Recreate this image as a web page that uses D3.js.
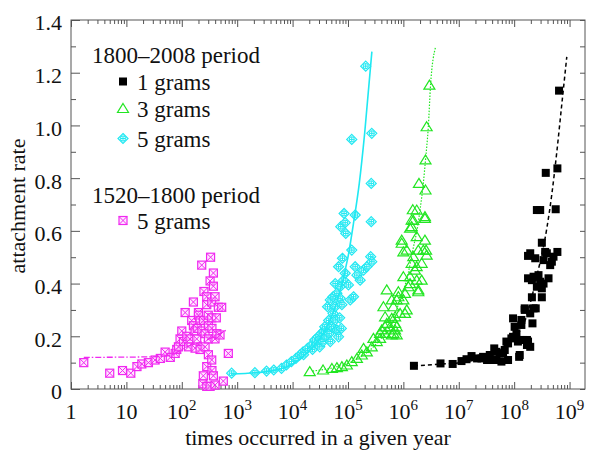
<!DOCTYPE html>
<html>
<head>
<meta charset="utf-8">
<script src="https://cdn.jsdelivr.net/npm/d3@7"></script>
<style>
  body { margin: 0; background: #fff; }
  svg text { font-family: "Liberation Serif", "Times New Roman", serif; fill: #111; }
</style>
</head>
<body>
<svg id="chart" width="592" height="450"></svg>
<script>
// [times occurred in a given year, attachment rate]
const oneGrams = [
  [1.55e6,0.088],[4.68e6,0.097],[7.76e6,0.095],[1.12e7,0.106],[1.38e7,0.113],[1.70e7,0.125],
  [2.14e7,0.116],[2.57e7,0.116],[2.75e7,0.122],[3.24e7,0.11],[3.63e7,0.129],[3.63e7,0.11],
  [4.37e7,0.154],[4.79e7,0.11],[4.79e7,0.141],[5.50e7,0.135],[5.89e7,0.104],[6.31e7,0.135],
  [6.76e7,0.148],[7.24e7,0.18],[7.76e7,0.11],[7.76e7,0.173],[8.91e7,0.192],[9.55e7,0.268],
  [9.55e7,0.198],[1.02e8,0.236],[1.10e8,0.211],[1.17e8,0.18],[1.23e8,0.122],[1.26e8,0.186],
  [1.26e8,0.129],[1.35e8,0.262],[1.35e8,0.243],[1.45e8,0.186],[1.55e8,0.306],[1.55e8,0.30],
  [1.70e8,0.167],[1.70e8,0.186],[1.78e8,0.18],[1.78e8,0.42],[1.78e8,0.505],[1.95e8,0.16],
  [1.95e8,0.287],[1.95e8,0.515],[2.09e8,0.348],[2.09e8,0.413],[2.14e8,0.249],[2.24e8,0.426],
  [2.24e8,0.306],[2.40e8,0.496],[2.45e8,0.306],[2.57e8,0.679],[2.57e8,0.388],[2.75e8,0.432],
  [2.95e8,0.679],[2.95e8,0.407],[3.16e8,0.348],[3.16e8,0.555],[3.16e8,0.382],[3.39e8,0.40],
  [3.39e8,0.489],[3.63e8,0.52],[3.72e8,0.82],[3.89e8,0.515],[4.17e8,0.42],[4.47e8,0.47],
  [4.79e8,0.483],[5.13e8,0.502],[5.62e8,0.682],[6.03e8,0.52],[6.03e8,0.837],[6.46e8,1.132]
]
const threeGrams = [
  [2.04e4,0.066],[3.55e4,0.072],[5.13e4,0.078],[6.31e4,0.081],[7.76e4,0.085],[9.55e4,0.091],
  [1.17e5,0.104],[1.45e5,0.116],[1.78e5,0.129],[1.91e5,0.154],[2.19e5,0.141],[2.69e5,0.16],
  [2.88e5,0.192],[3.31e5,0.18],[3.80e5,0.192],[3.80e5,0.211],[4.07e5,0.224],[4.37e5,0.312],
  [4.68e5,0.211],[4.68e5,0.274],[4.68e5,0.236],[5.01e5,0.249],[5.01e5,0.376],[5.75e5,0.236],
  [6.17e5,0.268],[6.17e5,0.338],[6.17e5,0.205],[6.61e5,0.312],[6.61e5,0.211],[7.08e5,0.224],
  [7.08e5,0.249],[7.08e5,0.274],[7.59e5,0.338],[7.59e5,0.205],[7.59e5,0.236],[8.13e5,0.369],
  [8.13e5,0.35],[8.71e5,0.287],[9.33e5,0.553],[9.33e5,0.565],[1.0e6,0.426],[1.0e6,0.338],
  [1.0e6,0.52],[1.07e6,0.287],[1.07e6,0.363],[1.15e6,0.527],[1.15e6,0.30],[1.23e6,0.388],
  [1.32e6,0.426],[1.32e6,0.61],[1.32e6,0.40],[1.41e6,0.477],[1.41e6,0.641],[1.41e6,0.616],
  [1.51e6,0.502],[1.48e6,0.68],[1.51e6,0.64],[1.62e6,0.451],[1.74e6,0.413],[1.74e6,0.578],
  [1.74e6,0.679],[1.74e6,0.464],[1.86e6,0.376],[1.86e6,0.527],[1.91e6,0.78],[1.86e6,0.369],
  [2.14e6,0.477],[2.14e6,0.413],[2.29e6,0.527],[2.45e6,0.565],[2.45e6,0.647],[2.45e6,0.654],
  [2.57e6,0.527],[2.51e6,0.755],[2.51e6,0.869],[2.63e6,0.995],[2.63e6,0.508],[2.95e6,1.153]
]
const fiveGrams = [
  [794,0.06],[2090,0.062],[3390,0.068],[4570,0.072],[6310,0.078],[7760,0.091],[9550,0.104],
  [11500,0.116],[13500,0.129],[15500,0.141],[15800,0.13],[18600,0.154],[21900,0.167],
  [22900,0.15],[25100,0.186],[27500,0.17],[28800,0.198],[30900,0.16],[31600,0.19],[33100,0.211],
  [35500,0.18],[36300,0.22],[38000,0.236],[40700,0.198],[42700,0.312],[44700,0.26],[45700,0.21],
  [47900,0.338],[47900,0.18],[50100,0.236],[53700,0.287],[53700,0.35],[55000,0.23],[58900,0.262],
  [58900,0.312],[58900,0.40],[63100,0.224],[63100,0.363],[67600,0.198],[67600,0.464],
  [70800,0.27],[72400,0.388],[72400,0.344],[74100,0.616],[75900,0.23],[77600,0.32],[79400,0.496],
  [83200,0.413],[85100,0.666],[89100,0.439],[89100,0.631],[91200,0.59],[102000,0.395],
  [110000,0.338],[117000,0.527],[117000,0.947],[126000,0.35],[135000,0.464],[135000,0.66],
  [145000,0.432],[166000,0.413],[191000,0.451],[209000,1.225],[219000,0.464],[257000,0.502],
  [263000,0.635],[263000,0.78],[269000,0.483],[269000,0.97]
]
const fiveGramsEarly = [
  [1.7,0.10],[5.0,0.06],[8.5,0.07],[12,0.06],[15.5,0.085],[19,0.095],[25,0.10],[33,0.11],
  [41,0.116],[50,0.14],[62,0.12],[76,0.135],[81,0.15],[87,0.16],[93,0.19],[100,0.22],
  [107,0.18],[115,0.29],[123,0.20],[132,0.16],[141,0.19],[151,0.26],[162,0.33],[162,0.24],
  [174,0.155],[174,0.22],[186,0.19],[190,0.23],[200,0.29],[200,0.28],[214,0.26],[214,0.15],
  [229,0.47],[230,0.22],[240,0.02],[245,0.26],[245,0.05],[251,0.37],[263,0.16],[263,0.21],
  [282,0.085],[282,0.01],[282,0.35],[282,0.32],[300,0.28],[302,0.24],[302,0.13],[302,0.19],
  [324,0.41],[324,0.01],[331,0.50],[347,0.33],[347,0.11],[347,0.27],[350,0.23],[350,0.07],
  [372,0.39],[372,0.05],[372,0.44],[398,0.35],[398,0.015],[398,0.19],[420,0.27],[427,0.21],
  [457,0.31],[490,0.205],[525,0.31],[562,0.03],[692,0.135]
]
// fitted curves
const oneGramsFit = [
  [1.55e6,0.088],[4.6e6,0.094],[1.05e7,0.10],[2.75e7,0.12],[7.2e7,0.17],[1.26e8,0.22],
  [1.70e8,0.28],[2.09e8,0.35],[2.57e8,0.43],[3.16e8,0.51],[3.89e8,0.61],[4.79e8,0.74],
  [5.89e8,0.90],[7.24e8,1.08],[8.91e8,1.26]
]
const threeGramsFit = [
  [2.3e4,0.068],[5.9e4,0.083],[1.35e5,0.11],[3.1e5,0.167],[5.75e5,0.243],[8.7e5,0.338],
  [1.2e6,0.432],[1.48e6,0.527],[1.82e6,0.62],[2.0e6,0.68],[2.29e6,0.78],[2.51e6,0.869],
  [2.82e6,0.995],[3.09e6,1.15],[3.8e6,1.296]
]
const fiveGramsFit = [
  [794,0.057],[3160,0.065],[1e4,0.095],[2e4,0.145],[4e4,0.23],[6.3e4,0.33],[1e5,0.50],
  [1.26e5,0.63],[1.6e5,0.78],[2.0e5,0.97],[2.7e5,1.28]
]
const fiveGramsEarlyFit = [
  [1.7,0.12],[27,0.122],[62,0.129],[123,0.16],[282,0.186],[646,0.224]
]
const xExponents = [0,1,2,3,4,5,6,7,8,9]
const yTicks = [0,0.2,0.4,0.6,0.8,1.0,1.2,1.4]
const yMinorTicks = [0.1,0.3,0.5,0.7,0.9,1.1,1.3]

const svg = d3.select("#chart")
const box = { left: 71, right: 585, top: 20, bottom: 389 }

const x = d3.scaleLog().domain([1, 1.9e9]).range([box.left, box.right])
const y = d3.scaleLinear().domain([0, 1.4]).range([box.bottom, box.top])

const axisColor = "#555"

// frame
svg.append("rect")
  .attr("x", box.left).attr("y", box.top)
  .attr("width", box.right - box.left).attr("height", box.bottom - box.top)
  .attr("fill", "none").attr("stroke", axisColor).attr("stroke-width", 1)

const decades = xExponents.map(e => Math.pow(10, e))
const minors = []
xExponents.forEach(e => {
  for (let k = 2; k <= 9; k++) {
    const v = k * Math.pow(10, e)
    if (v < x.domain()[1]) minors.push(v)
  }
})

const tickAxis = (g) => {
  g.select(".domain").remove()
  g.selectAll("line").attr("stroke", axisColor)
}

svg.append("g").attr("transform", "translate(0," + box.bottom + ")")
  .call(d3.axisBottom(x).tickValues(decades).tickSize(-7).tickFormat(""))
  .call(tickAxis)
svg.append("g").attr("transform", "translate(0," + box.bottom + ")")
  .call(d3.axisBottom(x).tickValues(minors).tickSize(-4).tickFormat(""))
  .call(tickAxis)
svg.append("g").attr("transform", "translate(0," + box.top + ")")
  .call(d3.axisTop(x).tickValues(decades).tickSize(-7).tickFormat(""))
  .call(tickAxis)
svg.append("g").attr("transform", "translate(0," + box.top + ")")
  .call(d3.axisTop(x).tickValues(minors).tickSize(-4).tickFormat(""))
  .call(tickAxis)

svg.append("g").attr("transform", "translate(" + box.left + ",0)")
  .call(d3.axisLeft(y).tickValues(yTicks).tickSize(-9).tickPadding(9)
    .tickFormat(d => d === 0 ? "0" : d3.format(".1f")(d)))
  .call(tickAxis)
  .call(g => g.selectAll("text")
    .attr("dy", "0.45em")
    .style("font-family", '"Liberation Serif", serif')
    .style("font-size", "22px")
    .attr("fill", "#111"))
svg.append("g").attr("transform", "translate(" + box.left + ",0)")
  .call(d3.axisLeft(y).tickValues(yMinorTicks).tickSize(-5).tickFormat(""))
  .call(tickAxis)
svg.append("g").attr("transform", "translate(" + box.right + ",0)")
  .call(d3.axisRight(y).tickValues(yTicks.concat(yMinorTicks)).tickSize(-5).tickFormat(""))
  .call(tickAxis)

// x tick labels with superscripts
const xLabels = svg.append("g")
xExponents.forEach(e => {
  const t = xLabels.append("text")
    .attr("x", x(Math.pow(10, e)))
    .attr("y", 419)
    .attr("text-anchor", "middle")
    .style("font-size", "22px")
  if (e === 0) t.text("1")
  else if (e === 1) t.text("10")
  else {
    t.append("tspan").text("10")
    t.append("tspan").attr("dy", -9).style("font-size", "15px").text(e)
  }
})

svg.append("text")
  .attr("x", 318).attr("y", 445)
  .attr("text-anchor", "middle")
  .style("font-size", "22px")
  .text("times occurred in a given year")

svg.append("text")
  .attr("transform", "translate(25,206) rotate(-90)")
  .attr("text-anchor", "middle")
  .style("font-size", "22px")
  .text("attachment rate")

// marker shapes
const black = "#000", green = "#22e622", cyan = "#1fe8f2", magenta = "#f028f0"

const drawSquare = (g, c) => {
  g.append("rect").attr("x", -4).attr("y", -4).attr("width", 8).attr("height", 8)
    .attr("fill", c)
}
const drawTriangle = (g, c) => {
  g.append("path").attr("d", "M0,-5L5.5,4L-5.5,4Z")
    .attr("fill", "none").attr("stroke", c).attr("stroke-width", 1.2)
}
const drawDiamond = (g, c) => {
  g.append("path").attr("d", "M0,-5L5,0L0,5L-5,0Z")
    .attr("fill", "#fff").attr("fill-opacity", 0.4).attr("stroke", c).attr("stroke-width", 1.2)
  g.append("circle").attr("r", 2.6).attr("fill", "none").attr("stroke", c).attr("stroke-width", 1)
  g.append("path").attr("d", "M-2.6,0H2.6M0,-2.6V2.6").attr("stroke", c).attr("stroke-width", 1)
}
const drawCheck = (g, c) => {
  g.append("rect").attr("x", -4).attr("y", -4).attr("width", 8).attr("height", 8)
    .attr("fill", "#ffd0ff").attr("fill-opacity", 0.5).attr("stroke", c).attr("stroke-width", 1.2)
  g.append("path").attr("d", "M-4,-4L4,4M4,-4L-4,4").attr("stroke", c).attr("stroke-width", 1)
}

const plotPoints = (data, draw, c) => {
  svg.append("g").selectAll("g")
    .data(data)
    .join("g")
      .attr("transform", d => "translate(" + x(d[0]) + "," + y(d[1]) + ")")
      .each(function() { draw(d3.select(this), c) })
}

const line = d3.line().x(d => x(d[0])).y(d => y(d[1])).curve(d3.curveMonotoneX)

plotPoints(fiveGramsEarly, drawCheck, magenta)
plotPoints(fiveGrams, drawDiamond, cyan)
plotPoints(threeGrams, drawTriangle, green)
plotPoints(oneGrams, drawSquare, black)

svg.append("path").datum(fiveGramsEarlyFit).attr("d", line)
  .attr("fill", "none").attr("stroke", magenta).attr("stroke-width", 1.3)
  .attr("stroke-dasharray", "6,2,1.5,2")
svg.append("path").datum(fiveGramsFit).attr("d", line)
  .attr("fill", "none").attr("stroke", cyan).attr("stroke-width", 1.6)
svg.append("path").datum(threeGramsFit).attr("d", line)
  .attr("fill", "none").attr("stroke", green).attr("stroke-width", 1.2)
  .attr("stroke-dasharray", "1.5,1.5")
svg.append("path").datum(oneGramsFit).attr("d", line)
  .attr("fill", "none").attr("stroke", black).attr("stroke-width", 1.5)
  .attr("stroke-dasharray", "4,3")

// legend
const legend = svg.append("g").style("font-size", "23px")
legend.append("text").attr("x", 92).attr("y", 63).text("1800–2008 period")
legend.append("text").attr("x", 92).attr("y", 203).text("1520–1800 period")
const legendItems = [
  { label: "1 grams", draw: drawSquare, c: black, y: 90 },
  { label: "3 grams", draw: drawTriangle, c: green, y: 117 },
  { label: "5 grams", draw: drawDiamond, c: cyan, y: 147 },
  { label: "5 grams", draw: drawCheck, c: magenta, y: 229 }
]
legendItems.forEach(it => {
  const g = legend.append("g").attr("transform", "translate(123," + (it.y - 8.5) + ")")
  it.draw(g, it.c)
  legend.append("text").attr("x", 137).attr("y", it.y).text(it.label)
})
</script>
</body>
</html>
